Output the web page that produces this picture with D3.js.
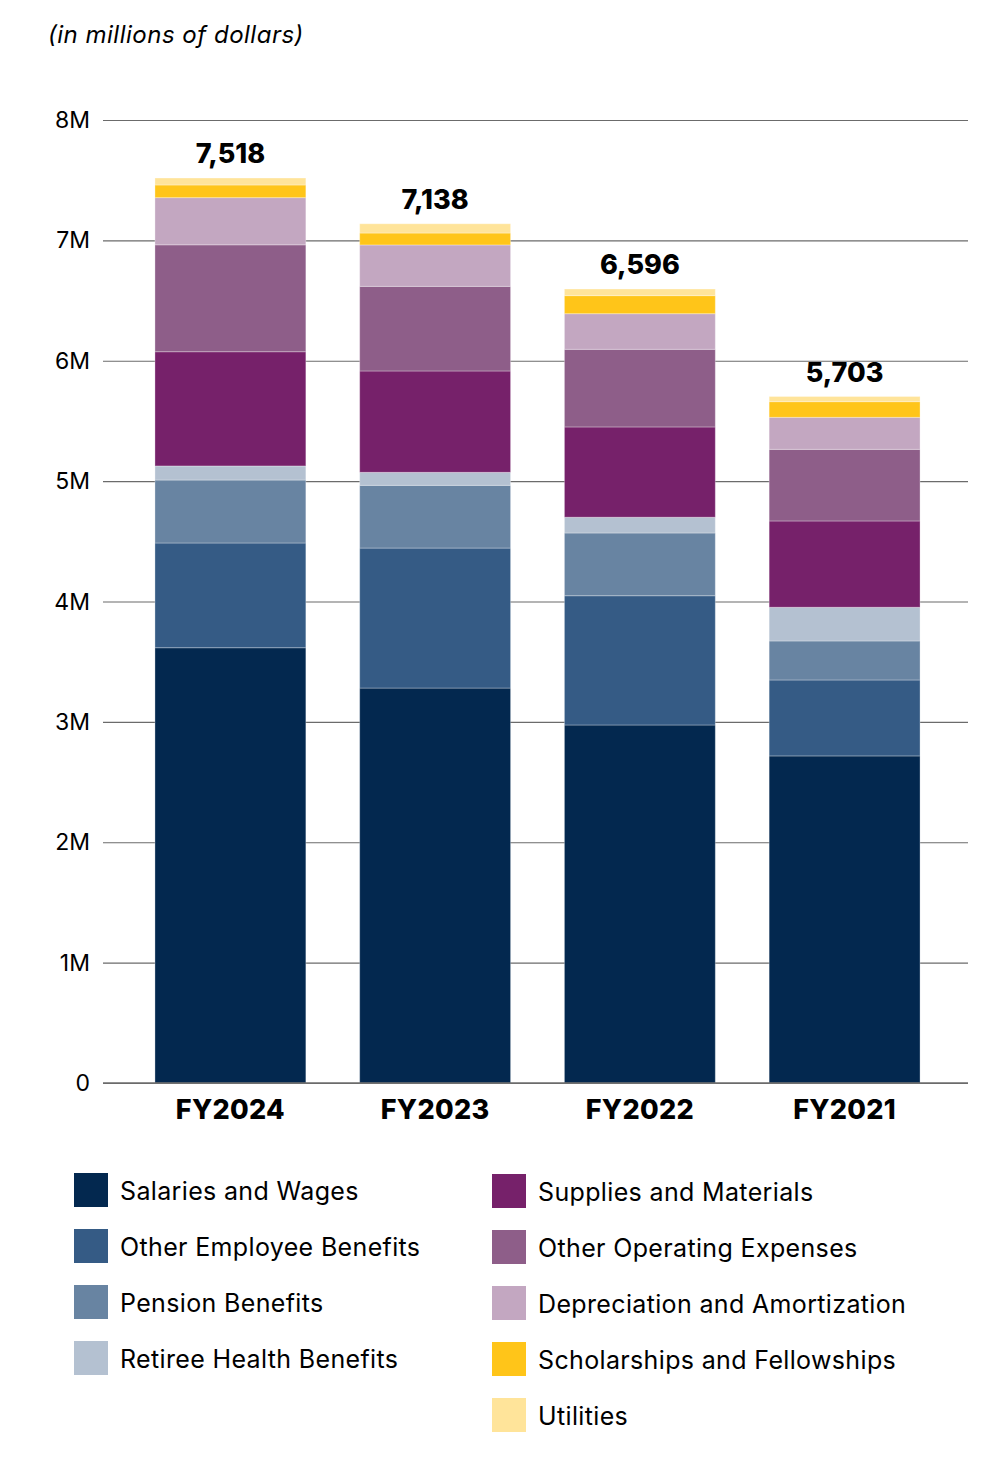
<!DOCTYPE html>
<html>
<head>
<meta charset="utf-8">
<script src="https://cdn.jsdelivr.net/npm/d3@7"></script>
<style>
  html, body { margin: 0; padding: 0; background: #fff; }
  svg { display: block; }
  text { font-family: Inter, "Noto Sans", sans-serif; fill: #000; }
</style>
</head>
<body>
<svg id="chart" width="1000" height="1468"></svg>
<script>
// ---- Data (in millions of dollars) ----
const years = ["FY2024", "FY2023", "FY2022", "FY2021"];
const categories = [
  "Salaries and Wages",
  "Other Employee Benefits",
  "Pension Benefits",
  "Retiree Health Benefits",
  "Supplies and Materials",
  "Other Operating Expenses",
  "Depreciation and Amortization",
  "Scholarships and Fellowships",
  "Utilities"
];
const salaries      = [3616, 3281, 2974, 2717];
const otherEmployee = [870, 1163, 1074, 631];
const pension       = [523, 521, 521, 324];
const retireeHealth = [117, 108, 131, 280];
const supplies      = [949, 842, 750, 717];
const otherOperating= [888, 703, 645, 595];
const depreciation  = [392, 344, 296, 266];
const scholarships  = [105, 99, 150, 130];
const utilities     = [58, 77, 55, 43];
const totals        = [7518, 7138, 6596, 5703];
const yTicks        = [0, 1000, 2000, 3000, 4000, 5000, 6000, 7000, 8000];
const yTickLabels   = ["0", "1M", "2M", "3M", "4M", "5M", "6M", "7M", "8M"];

const seriesValues = [salaries, otherEmployee, pension, retireeHealth, supplies,
                      otherOperating, depreciation, scholarships, utilities];
const colors = ["#03284f", "#355b85", "#6884a2", "#b4c1d1", "#76216a",
                "#8e5e89", "#c3a7c1", "#ffc519", "#ffe49a"];

// Build table for d3.stack
const table = years.map((y, i) => {
  const row = { year: y };
  categories.forEach((c, k) => row[c] = seriesValues[k][i]);
  return row;
});

const svg = d3.select("#chart");

const x = d3.scaleBand().domain(years).range([103, 968])
  .paddingInner(0.263).paddingOuter(0.244).align(0.52);
const y = d3.scaleLinear().domain([0, 8000]).range([1083, 120]);
const color = d3.scaleOrdinal().domain(categories).range(colors);

// Title
svg.append("text")
  .attr("x", 48).attr("y", 43)
  .style("font-size", "24px").style("font-style", "italic")
  .style("letter-spacing", "0.5px")
  .text("(in millions of dollars)");

// Gridlines
const yAxis = d3.axisLeft(y).tickValues(yTicks)
  .tickFormat((d, i) => yTickLabels[i])
  .tickSize(-(968 - 103)).tickPadding(13);
const gy = svg.append("g").attr("transform", "translate(103,0)").call(yAxis);
gy.select(".domain").remove();
gy.selectAll(".tick line").attr("stroke", "#6b6b6b").attr("stroke-width", 1.2);
gy.selectAll(".tick text")
  .attr("fill", "#000").style("font-size", "23px")
  .style("font-family", "Inter, sans-serif").attr("dy", "0.33em");

// Bars
const stack = d3.stack().keys(categories);
const stacked = stack(table);
svg.append("g").selectAll("g").data(stacked).join("g")
  .attr("fill", d => color(d.key))
  .selectAll("rect").data(d => d).join("rect")
  .attr("x", d => x(d.data.year))
  .attr("y", d => y(d[1]))
  .attr("width", x.bandwidth())
  .attr("height", d => y(d[0]) - y(d[1]))
  .attr("stroke", "#ffffff").attr("stroke-opacity", 0.3).attr("stroke-width", 1);

// Baseline
svg.append("line").attr("x1", 103).attr("x2", 968)
  .attr("y1", y(0)).attr("y2", y(0))
  .attr("stroke", "#6b6b6b").attr("stroke-width", 1.5);

// Total labels
svg.append("g").selectAll("text").data(years).join("text")
  .attr("x", d => x(d) + x.bandwidth() / 2)
  .attr("y", (d, i) => y(totals[i]) - 15)
  .attr("text-anchor", "middle")
  .style("font-size", "27px").style("font-weight", "800")
  .text((d, i) => d3.format(",")(totals[i]));

// X axis labels
const xAxis = d3.axisBottom(x).tickSize(0).tickPadding(0);
const gx = svg.append("g").attr("transform", `translate(0,${y(0)})`).call(xAxis);
gx.select(".domain").remove();
gx.selectAll(".tick text")
  .attr("fill", "#000").attr("dy", 0).attr("y", 36)
  .style("font-size", "27px").style("font-weight", "800")
  .style("letter-spacing", "0.3px")
  .style("font-family", "Inter, sans-serif");

// Legend
const legendCols = [
  { x: 74, items: categories.slice(0, 4), y0: 1173 },
  { x: 492, items: categories.slice(4), y0: 1174 }
];
legendCols.forEach(col => {
  const g = svg.append("g");
  col.items.forEach((c, i) => {
    const yy = col.y0 + i * 56;
    g.append("rect").attr("x", col.x).attr("y", yy)
      .attr("width", 34).attr("height", 34).attr("fill", color(c));
    g.append("text").attr("x", col.x + 46).attr("y", yy + 27)
      .style("font-size", "25px").style("letter-spacing", "0.35px").text(c);
  });
});
</script>
</body>
</html>
